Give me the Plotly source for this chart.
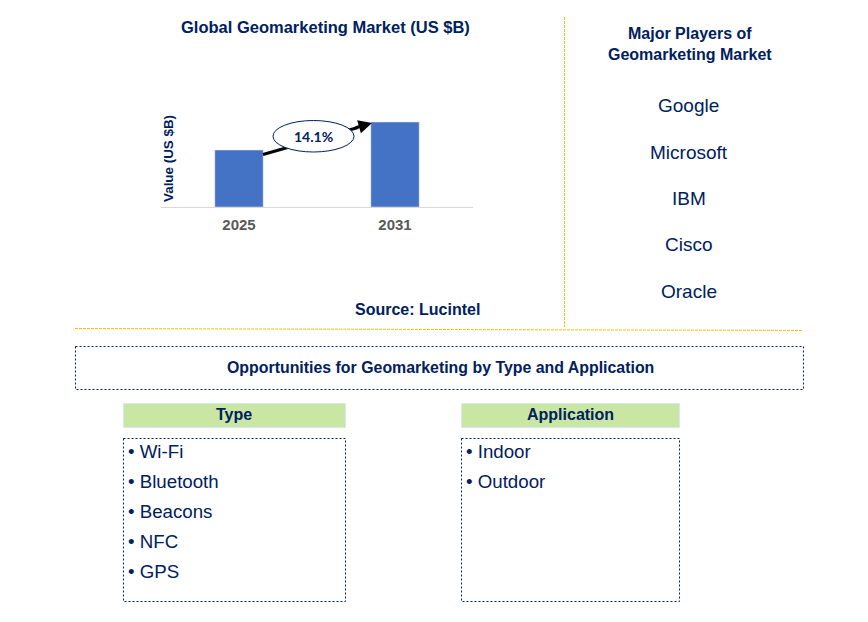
import plotly.graph_objects as go

W, H = 868, 622
NAVY = "#002060"
ORANGE = "#FFC000"
FONT = "Liberation Sans"

# Chart values (bar heights only)
years = ["2025", "2031"]
values = [5.7, 8.5]
cagr = "14.1%"

players = ["Google", "Microsoft", "IBM", "Cisco", "Oracle"]
types = ["Wi-Fi", "Bluetooth", "Beacons", "NFC", "GPS"]
applications = ["Indoor", "Outdoor"]


def px_x(x):
    return x / W


def px_y(y):
    return 1 - y / H


def label(text, x, y, size=16, bold=False, color=NAVY, anchor="center", angle=0, family=FONT):
    if bold:
        text = "<b>" + text + "</b>"
    return dict(
        text=text, x=px_x(x), y=px_y(y), xref="paper", yref="paper",
        xanchor=anchor, yanchor="middle", showarrow=False, textangle=angle,
        font=dict(family=family, size=size, color=color),
    )


def box(x0, y0, x1, y1, color=NAVY, dash="2px,2px", width=1, fill=None, layer="below"):
    return dict(
        type="rect", xref="paper", yref="paper", layer=layer,
        x0=px_x(x0), x1=px_x(x1), y0=px_y(y0), y1=px_y(y1),
        line=dict(color=color, width=width, dash=dash),
        fillcolor=fill if fill else "rgba(0,0,0,0)",
    )


def rule(x0, y0, x1, y1):
    return dict(
        type="line", xref="paper", yref="paper",
        x0=px_x(x0), x1=px_x(x1), y0=px_y(y0), y1=px_y(y1),
        line=dict(color=ORANGE, width=1, dash="3px,1px"),
    )


fig = go.Figure(go.Bar(x=years, y=values, marker_color="#4472C4", width=0.31))

shapes = [
    rule(564.5, 17, 564.5, 327),
    rule(75, 328.5, 803, 330.5),
    box(75.5, 346.5, 803.5, 389.5),
    box(123.5, 403.5, 345.5, 427.5, color="#D5E6F5", dash="solid", fill="#C9E7A3"),
    box(461.5, 403.5, 679.5, 427.5, color="#D5E6F5", dash="solid", fill="#C9E7A3"),
    box(123.5, 438.5, 345.5, 601.5),
    box(461.5, 438.5, 679.5, 601.5),
    # growth line goes under the ellipse, only the head is an annotation
    dict(
        type="line", xref="paper", yref="paper", layer="above",
        x0=px_x(263), x1=px_x(358), y0=px_y(154.5), y1=px_y(127.5),
        line=dict(color="black", width=3),
    ),
    dict(
        type="circle", xref="paper", yref="paper", layer="above",
        x0=px_x(273), x1=px_x(354), y0=px_y(120.5), y1=px_y(152),
        line=dict(color=NAVY, width=1), fillcolor="white",
    ),
]

annotations = [
    dict(
        x=px_x(372), y=px_y(123), xref="paper", yref="paper", text="",
        showarrow=True, ax=-18, ay=5.2, arrowhead=2, arrowsize=0.9,
        arrowwidth=3, arrowcolor="black",
    ),
    label("Global Geomarketing Market (US $B)", 325.5, 27, size=16.5, bold=True),
    label("Value (US $B)", 168, 159, size=13.4, bold=True, angle=-90),
    label(cagr, 313, 136, size=14, bold=True, family="Lato"),
    label("Source: Lucintel", 417, 309, bold=True),
    label("Major Players of", 689.5, 33, bold=True),
    label("Geomarketing Market", 689.5, 54, bold=True),
    label("Opportunities for Geomarketing by Type and Application", 440, 367, size=15.9, bold=True),
    label("Type", 234.5, 414, bold=True),
    label("Application", 570, 414, bold=True),
]

for i, name in enumerate(players):
    annotations.append(label(name, 688.5, 105.5 + i * 46.5, size=19))
for i, name in enumerate(types):
    annotations.append(label("• " + name, 125.5, 451 + i * 30, size=18.7, anchor="left"))
for i, name in enumerate(applications):
    annotations.append(label("• " + name, 463.5, 451 + i * 30, size=18.7, anchor="left"))

fig.update_layout(
    width=W, height=H,
    margin=dict(l=0, r=0, t=0, b=0),
    paper_bgcolor="white", plot_bgcolor="white",
    showlegend=False,
    shapes=shapes,
    annotations=annotations,
    xaxis=dict(
        domain=[px_x(161), px_x(473)], anchor="y",
        showgrid=False, zeroline=False, showline=True, linecolor="#D9D9D9", linewidth=1,
        ticks="outside", ticklen=4, tickcolor="rgba(0,0,0,0)",
        tickfont=dict(family=FONT, size=15, color="#595959", weight="bold"),
    ),
    yaxis=dict(
        domain=[px_y(207), px_y(107)], range=[0, 10],
        visible=False,
    ),
)

fig.write_html("out.html", config={"displayModeBar": False}, post_script="document.body.style.margin='0';")
